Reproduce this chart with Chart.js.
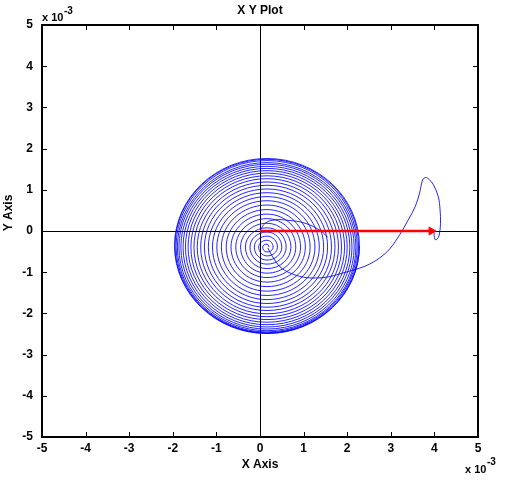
<!DOCTYPE html>
<html>
<head>
<meta charset="utf-8">
<script src="https://cdn.jsdelivr.net/npm/chart.js@4.4.1/dist/chart.umd.min.js"></script>
<style>
  html, body { margin: 0; padding: 0; background: #ffffff; }
  #wrap { width: 508px; height: 487px; }
</style>
</head>
<body>
<div id="wrap"><canvas id="c" width="508" height="487"></canvas></div>
<script>
// ---- data (units of 1e-3) ----
const tickValues = [-5, -4, -3, -2, -1, 0, 1, 2, 3, 4, 5];

// red vector from origin
const arrowX = [0, 3.93];
const arrowY = [0, 0];

// trajectory: hook near the arrow tip, loop up, sweep down-left into the centre
const pathX = [3.99, 4.01, 4.06, 4.11, 4.14, 4.13, 4.09, 3.98, 3.88, 3.80, 3.73, 3.66, 3.56, 3.40, 3.21, 2.98, 2.75, 2.52, 2.29, 1.83, 1.54, 1.26, 0.99, 0.69, 0.46, 0.28, 0.18];
const pathY = [-0.02, -0.20, -0.20, -0.10, 0.19, 0.51, 0.83, 1.12, 1.25, 1.30, 1.24, 0.92, 0.59, 0.27, -0.08, -0.43, -0.65, -0.80, -0.90, -1.04, -1.12, -1.14, -1.12, -1.02, -0.87, -0.61, -0.41];

// small arc leaving the origin
const arcX = [0, 0.12, 0.34, 0.64, 1.03, 1.40, 1.55];
const arcY = [0, 0.19, 0.27, 0.26, 0.19, 0.00, -0.15];

// outward spiral (quarter-turn samples); the last sample only steers the curve end
const spiralX = [
  0.21, 0.16, 0.06, 0.16,
  0.30, 0.16, -0.03, 0.16,
  0.40, 0.16, -0.13, 0.16,
  0.50, 0.16, -0.23, 0.16,
  0.60, 0.16, -0.335, 0.16,
  0.71, 0.16, -0.445, 0.16,
  0.82, 0.16, -0.555, 0.16,
  0.93, 0.16, -0.665, 0.16,
  1.04, 0.16, -0.775, 0.16,
  1.15, 0.16, -0.885, 0.16,
  1.26, 0.16, -0.99, 0.16,
  1.36, 0.16, -1.09, 0.16,
  1.46, 0.16, -1.185, 0.16,
  1.55, 0.16, -1.275, 0.16,
  1.64, 0.16, -1.36, 0.16,
  1.72, 0.16, -1.44, 0.16,
  1.80, 0.16, -1.515, 0.16,
  1.87, 0.16, -1.585, 0.16,
  1.94, 0.16, -1.65, 0.16,
  2.00, 0.16, -1.71, 0.16,
  2.06, 0.16, -1.765, 0.16,
  2.11, 0.16, -1.815, 0.16,
  2.16, 0.16, -1.86, 0.16,
  2.20, 0.16, -1.895, 0.16,
  2.23, 0.16, -1.925, 0.16,
  2.26, 0.16, -1.95, 0.16,
  2.28, 0.16, -1.96, 0.16,
  2.28, 0.16
];
const spiralY = [
  -0.39, -0.32, -0.39, -0.51,
  -0.39, -0.225, -0.39, -0.605,
  -0.39, -0.125, -0.39, -0.705,
  -0.39, -0.025, -0.39, -0.805,
  -0.39, 0.078, -0.39, -0.913,
  -0.39, 0.188, -0.39, -1.023,
  -0.39, 0.30, -0.39, -1.13,
  -0.39, 0.41, -0.39, -1.24,
  -0.39, 0.52, -0.39, -1.35,
  -0.39, 0.63, -0.39, -1.46,
  -0.39, 0.735, -0.39, -1.565,
  -0.39, 0.835, -0.39, -1.665,
  -0.39, 0.93, -0.39, -1.76,
  -0.39, 1.02, -0.39, -1.85,
  -0.39, 1.11, -0.39, -1.93,
  -0.39, 1.19, -0.39, -2.01,
  -0.39, 1.27, -0.39, -2.08,
  -0.39, 1.34, -0.39, -2.15,
  -0.39, 1.405, -0.39, -2.215,
  -0.39, 1.465, -0.39, -2.275,
  -0.39, 1.52, -0.39, -2.33,
  -0.39, 1.57, -0.39, -2.38,
  -0.39, 1.62, -0.39, -2.42,
  -0.39, 1.66, -0.39, -2.45,
  -0.37, 1.71, -0.37, -2.47,
  -0.36, 1.74, -0.36, -2.48,
  -0.36, 1.76, -0.36, -2.49,
  -0.36, 1.77
];

const toPts = (xs, ys) => xs.map((x, i) => ({ x: x, y: ys[i] }));

const FONT = "'Liberation Sans', Arial, sans-serif";

const decorPlugin = {
  id: 'decor',
  afterDraw(chart) {
    const ctx = chart.ctx;
    const a = chart.chartArea;
    const xs = chart.scales.x, ys = chart.scales.y;
    ctx.save();
    // frame
    ctx.strokeStyle = '#000';
    ctx.lineWidth = 2;
    ctx.strokeRect(a.left, a.top, a.right - a.left, a.bottom - a.top);
    // inward ticks on all four sides
    ctx.lineWidth = 1;
    ctx.beginPath();
    xs.ticks.forEach(t => {
      const p = Math.round(xs.getPixelForValue(t.value)) + 0.5;
      ctx.moveTo(p, a.bottom); ctx.lineTo(p, a.bottom - 5);
      ctx.moveTo(p, a.top); ctx.lineTo(p, a.top + 5);
    });
    ys.ticks.forEach(t => {
      const p = Math.round(ys.getPixelForValue(t.value)) + 0.5;
      ctx.moveTo(a.left, p); ctx.lineTo(a.left + 5, p);
      ctx.moveTo(a.right, p); ctx.lineTo(a.right - 5, p);
    });
    ctx.stroke();
    // exponent labels
    ctx.fillStyle = '#000';
    ctx.textBaseline = 'alphabetic';
    ctx.textAlign = 'left';
    ctx.font = 'bold 11px ' + FONT;
    ctx.fillText('x 10', 42, 21);
    ctx.fillText('x 10', 465, 473);
    ctx.font = 'bold 10px ' + FONT;
    ctx.fillText('-3', 64, 14);
    ctx.fillText('-3', 487, 465);
    // y axis title
    ctx.font = 'bold 12px ' + FONT;
    ctx.translate(9, 213);
    ctx.rotate(-Math.PI / 2);
    ctx.textAlign = 'center';
    ctx.textBaseline = 'middle';
    ctx.fillText('Y Axis', 0, 0);
    ctx.restore();
  }
};

const zeroLine = c => (c.tick && c.tick.value === 0) ? '#000000' : 'rgba(0,0,0,0)';
const BLUE = 'rgba(0,0,255,0.85)';
const lastSpiral = spiralX.length - 1;

new Chart(document.getElementById('c'), {
  type: 'line',
  data: {
    datasets: [
      {
        data: toPts(arrowX, arrowY),
        borderColor: '#ff0000',
        backgroundColor: '#ff0000',
        borderWidth: 2.5,
        tension: 0,
        pointRadius: [0, 4.5],
        pointStyle: 'triangle',
        pointRotation: 90,
        pointBorderWidth: 1,
        pointBorderColor: '#ff0000',
        pointBackgroundColor: '#ff0000'
      },
      {
        data: toPts(pathX, pathY),
        borderColor: BLUE,
        borderWidth: 1,
        tension: 0.35,
        pointRadius: 0
      },
      {
        data: toPts(arcX, arcY),
        borderColor: BLUE,
        borderWidth: 1,
        tension: 0.4,
        pointRadius: 0
      },
      {
        data: toPts(spiralX, spiralY),
        borderColor: BLUE,
        borderWidth: 1,
        tension: 0.55,
        pointRadius: 0,
        segment: {
          borderColor: c => (c.p1DataIndex === lastSpiral ? 'rgba(0,0,0,0)' : undefined)
        }
      }
    ]
  },
  options: {
    responsive: false,
    animation: false,
    events: [],
    layout: { padding: { left: 0, right: 30, top: 0, bottom: 0 } },
    plugins: {
      legend: { display: false },
      tooltip: { enabled: false },
      title: {
        display: true,
        text: 'X Y Plot',
        fullSize: false,
        color: '#000',
        font: { family: FONT, size: 12, weight: 'bold' },
        padding: { top: 3, bottom: 7.6 }
      }
    },
    scales: {
      x: {
        type: 'linear',
        min: -5, max: 5,
        afterBuildTicks: s => { s.ticks = tickValues.map(v => ({ value: v })); },
        afterFit: s => { s.height = 50; },
        ticks: {
          color: '#000', padding: 4, maxRotation: 0, autoSkip: false,
          font: { family: FONT, size: 12, weight: 'bold' }
        },
        grid: { drawTicks: false, color: zeroLine, lineWidth: 1 },
        border: { display: false },
        title: {
          display: true, text: 'X Axis', color: '#000',
          font: { family: FONT, size: 12, weight: 'bold' },
          padding: { top: 0, bottom: 14.8 }
        }
      },
      y: {
        type: 'linear',
        min: -5, max: 5,
        afterBuildTicks: s => { s.ticks = tickValues.map(v => ({ value: v })); },
        afterFit: s => { s.width = 42; },
        ticks: {
          color: '#000', padding: 9, autoSkip: false,
          font: { family: FONT, size: 12, weight: 'bold' }
        },
        grid: { drawTicks: false, color: zeroLine, lineWidth: 1 },
        border: { display: false }
      }
    }
  },
  plugins: [decorPlugin]
});
</script>
</body>
</html>
